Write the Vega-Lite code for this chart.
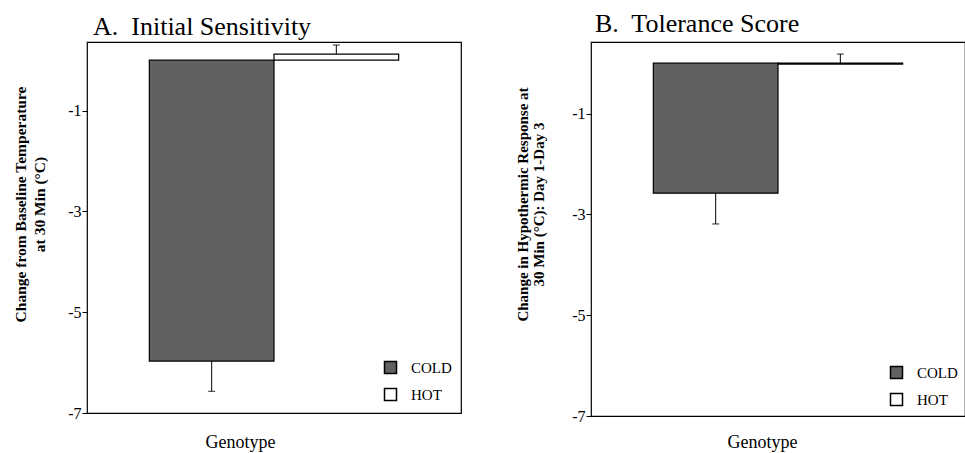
{
  "$schema": "https://vega.github.io/schema/vega-lite/v6.json",
  "padding": {"left": 13, "top": 10, "right": 0, "bottom": 0},
  "spacing": 53,
  "config": {
    "font": "Liberation Serif",
    "view": {"stroke": "black", "strokeWidth": 1.2},
    "axis": {"labelFont": "Liberation Serif", "titleFont": "Liberation Serif", "labelColor": "black", "titleColor": "black", "tickColor": "black", "domainColor": "black", "grid": false},
    "title": {"font": "Liberation Serif", "fontSize": 26, "fontWeight": "normal", "anchor": "start", "frame": "group", "color": "black"},
    "legend": {"orient": "bottom-right", "symbolType": "square", "symbolSize": 144, "symbolStrokeColor": "black", "symbolStrokeWidth": 1.5, "labelFont": "Liberation Serif", "labelFontSize": 15, "labelColor": "black", "rowPadding": 8, "offset": 9, "labelOffset": 13}
  },
  "resolve": {"scale": {"fill": "independent", "y": "independent"}, "legend": {"fill": "independent"}},
  "hconcat": [
    {
      "title": {"text": "A.\u00a0 Initial Sensitivity", "dx": 6, "offset": 2},
      "width": 374,
      "height": 371,
      "data": {"values": [
        {"genotype": "COLD", "mean": -5.97, "err_end": -6.57},
        {"genotype": "HOT", "mean": 0.12, "err_end": 0.30}
      ]},
      "encoding": {
        "x": {"field": "genotype", "type": "nominal", "scale": {"domain": ["COLD", "HOT"], "paddingInner": 0, "paddingOuter": 0.5},
          "axis": {"labels": false, "ticks": false, "domain": false, "title": "Genotype", "titleFontSize": 18, "titleFontWeight": "normal", "titlePadding": 20, "titleX": 153}}
      },
      "layer": [
        {"mark": {"type": "bar", "stroke": "black", "strokeWidth": 1.2},
         "encoding": {
           "y": {"field": "mean", "type": "quantitative", "scale": {"domain": [-7, 0.36], "nice": false, "zero": false},
             "axis": {"title": ["Change from Baseline Temperature", "at 30 Min (°C)"], "values": [-1, -3, -5, -7], "labelExpr": "'' + datum.value", "labelFontSize": 16, "tickSize": 5, "labelPadding": 1, "domain": false, "titleFontSize": 15.5, "titleFontWeight": "bold", "titleLineHeight": 19, "titleY": 162, "titlePadding": 20}},
           "fill": {"field": "genotype", "type": "nominal", "scale": {"domain": ["COLD", "HOT"], "range": ["#616161", "white"]}, "legend": {"title": null, "offset": 9}}
         }},
        {"mark": {"type": "rule", "color": "black", "strokeWidth": 1.5}, "encoding": {"y": {"datum": 0}}},
        {"mark": {"type": "rule", "color": "black", "strokeWidth": 1}, "encoding": {"y": {"field": "mean", "type": "quantitative"}, "y2": {"field": "err_end"}}},
        {"mark": {"type": "tick", "color": "black", "size": 7, "thickness": 1.2}, "encoding": {"y": {"field": "err_end", "type": "quantitative"}}}
      ]
    },
    {
      "title": {"text": "B.\u00a0 Tolerance Score", "dx": 4, "offset": 5},
      "width": 374,
      "height": 374,
      "data": {"values": [
        {"genotype": "COLD", "mean": -2.58, "err_end": -3.19},
        {"genotype": "HOT", "mean": -0.02, "err_end": 0.18}
      ]},
      "encoding": {
        "x": {"field": "genotype", "type": "nominal", "scale": {"domain": ["COLD", "HOT"], "paddingInner": 0, "paddingOuter": 0.5},
          "axis": {"labels": false, "ticks": false, "domain": false, "title": "Genotype", "titleFontSize": 18, "titleFontWeight": "normal", "titlePadding": 17, "titleX": 171}}
      },
      "layer": [
        {"mark": {"type": "bar", "stroke": "black", "strokeWidth": 1.2},
         "encoding": {
           "y": {"field": "mean", "type": "quantitative", "scale": {"domain": [-7, 0.42], "nice": false, "zero": false},
             "axis": {"title": ["Change in Hypothermic Response at", "30 Min (°C): Day 1-Day 3"], "values": [-1, -3, -5, -7], "labelExpr": "'' + datum.value", "labelFontSize": 16, "tickSize": 5, "labelPadding": 1, "domain": false, "titleFontSize": 15, "titleFontWeight": "bold", "titleLineHeight": 16, "titleY": 162, "titlePadding": 25}},
           "fill": {"field": "genotype", "type": "nominal", "scale": {"domain": ["COLD", "HOT"], "range": ["#616161", "white"]}, "legend": {"title": null, "offset": 7}}
         }},
        {"mark": {"type": "rule", "color": "black", "strokeWidth": 1.5}, "encoding": {"y": {"datum": 0}}},
        {"mark": {"type": "rule", "color": "black", "strokeWidth": 1}, "encoding": {"y": {"field": "mean", "type": "quantitative"}, "y2": {"field": "err_end"}}},
        {"mark": {"type": "tick", "color": "black", "size": 7, "thickness": 1.2}, "encoding": {"y": {"field": "err_end", "type": "quantitative"}}}
      ]
    }
  ]
}
